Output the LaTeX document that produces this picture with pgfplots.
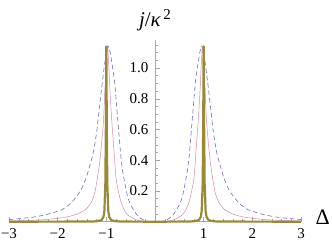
\documentclass[border=0pt]{standalone}
\usepackage{fontspec}
\setmainfont{Liberation Serif}
\usepackage{pgfplots}
\pgfplotsset{compat=1.18}
\definecolor{cblue}{rgb}{0.42,0.42,0.78}
\definecolor{cpink}{rgb}{0.82,0.55,0.68}
\definecolor{cgold}{rgb}{0.60,0.54,0.22}
\begin{document}
\begin{tikzpicture}
\begin{axis}[
  name=ax,
  scale only axis,
  width=292pt, height=181.4pt,
  xmin=-3, xmax=3, ymin=0, ymax=1.18,
  axis lines=middle,
  axis line style={gray!70, line width=0.5pt, -},
  tick align=inside,
  tick style={gray!70, line width=0.4pt},
  major tick length=4.5pt,
  minor tick length=2.5pt,
  xtick={-3,-2,-1,1,2,3},
  xticklabels={−3,−2,−1,1,2,3},
  minor xtick={-2.8,-2.6,-2.4,-2.2,-1.8,-1.6,-1.4,-1.2,-0.8,-0.6,-0.4,-0.2,0.2,0.4,0.6,0.8,1.2,1.4,1.6,1.8,2.2,2.4,2.6,2.8},
  ytick={0.2,0.4,0.6,0.8,1.0},
  yticklabels={0.2,0.4,0.6,0.8,1.0},
  minor ytick={0.05,0.1,0.15,0.25,0.3,0.35,0.45,0.5,0.55,0.65,0.7,0.75,0.85,0.9,0.95,1.05,1.1,1.15},
  ticklabel style={font=\fontsize{15}{15}\selectfont, text=black},
  xticklabel style={anchor=north, yshift=-3pt},
  yticklabel style={anchor=east, xshift=-3pt},
  xlabel={\fontsize{22}{22}\selectfont Δ},
  xlabel style={at={(rel axis cs:1,0)}, anchor=west, xshift=11pt, yshift=4pt},
  ylabel={\fontsize{21}{21}\selectfont\textit{j}/\textit{κ}\raisebox{0.75ex}{\fontsize{15}{15}\selectfont\,2}},
  ylabel style={at={(axis cs:0,1.18)}, anchor=south, rotate=0, yshift=6pt},
  clip=false,
]
% blue dashed
\addplot[cblue, line width=0.6pt, dash pattern=on 4.5pt off 3pt, smooth, tension=0.4] coordinates {
(-3.0,0.014) (-2.75,0.021) (-2.5,0.03) (-2.25,0.045) (-2.0,0.068) (-1.9,0.08) (-1.75,0.115) (-1.62,0.16) (-1.5,0.22) (-1.4,0.30) (-1.3,0.41) (-1.25,0.48) (-1.2,0.58) (-1.15,0.72) (-1.10,0.86) (-1.05,0.99) (-1.0,1.10) (-0.96,1.14) (-0.92,1.10) (-0.87,1.00) (-0.83,0.91) (-0.78,0.72) (-0.73,0.53) (-0.70,0.42) (-0.66,0.32) (-0.60,0.22) (-0.56,0.16) (-0.50,0.11) (-0.42,0.066) (-0.35,0.036) (-0.28,0.019) (-0.22,0.009) (-0.15,0.002) (-0.1,0)
};
\addplot[cblue, line width=0.6pt, dash pattern=on 4.5pt off 3pt, smooth, tension=0.4] coordinates {
(0.1,0) (0.15,0.002) (0.22,0.009) (0.28,0.019) (0.35,0.036) (0.42,0.066) (0.50,0.11) (0.56,0.16) (0.60,0.22) (0.66,0.32) (0.70,0.42) (0.73,0.53) (0.78,0.72) (0.83,0.91) (0.87,1.00) (0.92,1.10) (0.96,1.14) (1.0,1.10) (1.05,0.99) (1.10,0.86) (1.15,0.72) (1.2,0.58) (1.25,0.48) (1.3,0.41) (1.4,0.30) (1.5,0.22) (1.62,0.16) (1.75,0.115) (1.9,0.08) (2.0,0.068) (2.25,0.045) (2.5,0.03) (2.75,0.021) (3.0,0.014)
};
% pink thin
\addplot[cpink, line width=0.5pt, smooth, tension=0.4] coordinates {
(-3.0,0.005) (-2.7,0.007) (-2.33,0.012) (-2.0,0.022) (-1.78,0.033) (-1.6,0.05) (-1.44,0.076) (-1.32,0.12) (-1.24,0.185) (-1.19,0.27) (-1.14,0.38) (-1.10,0.50) (-1.06,0.65) (-1.03,0.85) (-1.0,1.02) (-0.975,1.14) (-0.95,1.02) (-0.92,0.82) (-0.88,0.62) (-0.84,0.45) (-0.80,0.28) (-0.74,0.18) (-0.69,0.12) (-0.63,0.075) (-0.56,0.044) (-0.45,0.022) (-0.35,0.009) (-0.25,0.001) (-0.15,0)
};
\addplot[cpink, line width=0.5pt, smooth, tension=0.4] coordinates {
(0.15,0) (0.25,0.001) (0.35,0.009) (0.45,0.022) (0.56,0.044) (0.63,0.075) (0.69,0.12) (0.74,0.18) (0.80,0.28) (0.84,0.45) (0.88,0.62) (0.92,0.82) (0.95,1.02) (0.975,1.14) (1.0,1.02) (1.03,0.85) (1.06,0.65) (1.10,0.50) (1.14,0.38) (1.19,0.27) (1.24,0.185) (1.32,0.12) (1.44,0.076) (1.6,0.05) (1.78,0.033) (2.0,0.022) (2.33,0.012) (2.7,0.007) (3.0,0.005)
};
% gold thick
\addplot[cgold, line width=2.2pt, line join=round] coordinates {
(-3,0) (-1.3,0.001) (-1.2,0.003) (-1.1,0.01) (-1.06,0.03) (-1.04,0.07) (-1.02,0.25) (-1.01,0.6) (-1.0,1.14) (-0.99,0.6) (-0.98,0.25) (-0.96,0.07) (-0.94,0.03) (-0.9,0.01) (-0.8,0.003) (-0.7,0.001) (0,0)
(0.7,0.001) (0.8,0.003) (0.9,0.01) (0.94,0.03) (0.96,0.07) (0.98,0.25) (0.99,0.6) (1.0,1.14) (1.01,0.6) (1.02,0.25) (1.04,0.07) (1.06,0.03) (1.1,0.01) (1.2,0.003) (1.3,0.001) (3,0)
};
\end{axis}
\pgfresetboundingbox
\path[use as bounding box] ([xshift=-9pt,yshift=-20.25pt]ax.south west) rectangle ([xshift=31pt,yshift=40.3pt]ax.north east);
\end{tikzpicture}
\end{document}
